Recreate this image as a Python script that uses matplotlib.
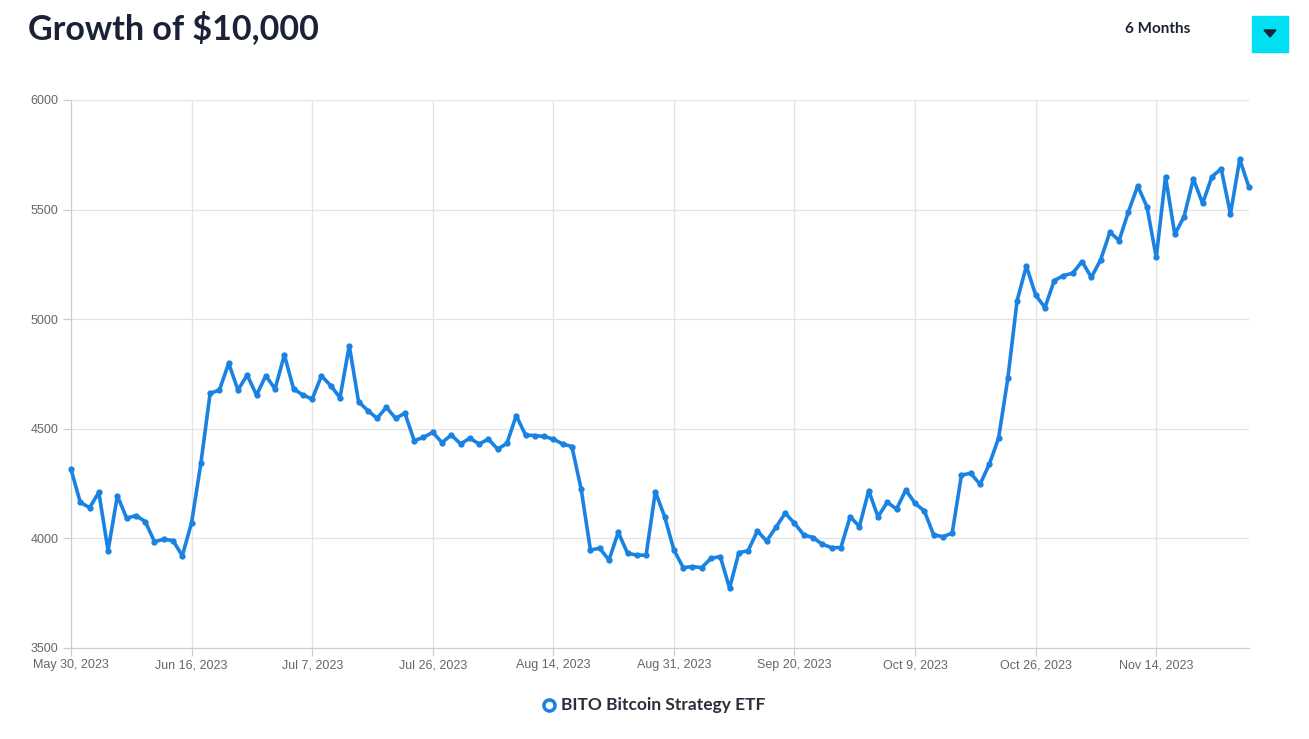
import numpy as np
import matplotlib.pyplot as plt
from matplotlib.patches import Rectangle, Polygon

# growth of $10,000 in BITO, trading days May 30 - Nov 29, 2023
values = [
    4315, 4165, 4140, 4210, 3944, 4195, 4092, 4104, 4077, 3985,
    3996, 3990, 3921, 4072, 4342, 4662, 4677, 4799, 4677, 4745,
    4654, 4742, 4682, 4837, 4682, 4654, 4636, 4741, 4697, 4642,
    4879, 4624, 4583, 4548, 4598, 4548, 4571, 4446, 4461, 4484,
    4437, 4472, 4431, 4457, 4431, 4453, 4407, 4434, 4560, 4472,
    4469, 4465, 4453, 4431, 4419, 4225, 3947, 3955, 3901, 4028,
    3932, 3924, 3923, 4213, 4099, 3947, 3867, 3871, 3867, 3909,
    3917, 3773, 3935, 3944, 4034, 3988, 4051, 4115, 4069, 4016,
    4004, 3973, 3958, 3958, 4099, 4054, 4218, 4099, 4165, 4134,
    4221, 4160, 4125, 4016, 4008, 4024, 4289, 4297, 4247, 4338,
    4457, 4730, 5085, 5243, 5110, 5053, 5176, 5199, 5210, 5263,
    5191, 5270, 5397, 5359, 5490, 5608, 5513, 5282, 5650, 5387,
    5468, 5640, 5528, 5650, 5686, 5480, 5729, 5602,
]
tick_labels = ['May 30, 2023', 'Jun 16, 2023', 'Jul 7, 2023', 'Jul 26, 2023',
               'Aug 14, 2023', 'Aug 31, 2023', 'Sep 20, 2023', 'Oct 9, 2023',
               'Oct 26, 2023', 'Nov 14, 2023']
yticks = [3500, 4000, 4500, 5000, 5500, 6000]
series_name = 'BITO Bitcoin Strategy ETF'

blue = '#1a82e2'
x = np.arange(len(values))

fig = plt.figure(figsize=(13.09, 7.39), dpi=100)
ax = fig.add_axes([71/1309, 1 - 648/739, (1249 - 71)/1309, (648 - 100)/739])

ax.plot(x, values, color=blue, linewidth=2.6, marker='o', markersize=3.5,
        solid_joinstyle='round', zorder=3, clip_on=False)

ax.set_xlim(0, len(values) - 1)
ax.set_ylim(3500, 6000)
ax.set_yticks(yticks)
ax.set_xticks(np.arange(0, len(values), 13))
ax.set_xticklabels(tick_labels)

ax.grid(True, color='#e3e3e3', linewidth=0.9)
ax.set_axisbelow(True)
for s in ['top', 'right']:
    ax.spines[s].set_visible(False)
for s in ['left', 'bottom']:
    ax.spines[s].set_color('#cccccc')
ax.tick_params(axis='both', colors='#cccccc', labelcolor='#666666',
               labelsize=8.5, length=6, width=0.9)
ax.tick_params(axis='x', pad=2)
ax.tick_params(axis='y', pad=3)
for lab in ax.get_xticklabels() + ax.get_yticklabels():
    lab.set_family('Liberation Sans')
    lab.set_fontsize(9)

# header
fig.text(28/1309, 1 - 28/739, 'Growth of $10,000', fontsize=24.5, fontweight='bold',
         color='#1b2136', va='center', ha='left', family='Lato')
fig.text(1125/1309, 1 - 29/739, '6 Months', fontsize=11, color='#1b2136',
         va='center', ha='left', family='Lato', fontweight='bold')
fig.patches.append(Rectangle((1252/1309, 1 - 52/739), 36/1309, 36/739,
                             transform=fig.transFigure, color='#00e0f2'))
fig.patches.append(Polygon([(1264/1309, 1 - 30/739), (1276/1309, 1 - 30/739),
                            (1270/1309, 1 - 37/739)], closed=True,
                           transform=fig.transFigure, color='#1b2136'))

# legend
fig.lines.append(plt.Line2D([549/1309], [1 - 705/739], transform=fig.transFigure,
                            marker='o', markersize=8, markerfacecolor='white',
                            markeredgecolor=blue, markeredgewidth=2.5,
                            linestyle='none'))
fig.text(561/1309, 1 - 705/739, series_name, fontsize=12.5, fontweight='bold',
         color='#2b2f3a', va='center', ha='left', family='Lato')

fig.savefig('out.png', dpi=100)
